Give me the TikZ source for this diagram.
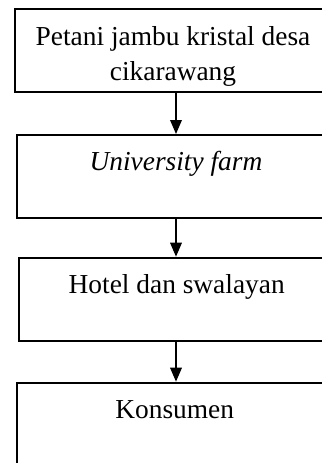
\documentclass[tikz,border=0pt]{standalone}
\usepackage{fontspec}
\setmainfont{Liberation Serif}
\usetikzlibrary{arrows.meta}
\begin{document}
\begin{tikzpicture}[x=0.5pt,y=-0.5pt,
   every node/.style={draw,line width=1pt,anchor=north,inner sep=0pt,align=center,
      font=\fontsize{13.7}{17.9}\selectfont,text height=17.8pt,text depth=23.7pt},
   arr/.style={-{Triangle[width=5.8pt,length=7pt]},line width=0.75pt}]
\clip (0,0) rectangle (322,463);
\node[minimum width=158pt,text height=36.2pt,text depth=5.4pt] (tani) at (173,7.5)
   {Petani jambu kristal desa\\cikarawang};
\node[minimum width=159pt] (farm) at (176,134) {\textit{University farm}};
\node[minimum width=157.7pt] (hotel) at (176.7,256.7) {Hotel dan swalayan};
\node[minimum width=157.4pt] (kons) at (174.7,381.7) {Konsumen};
\coordinate (ax) at (176,0);
\foreach \a/\b in {tani/farm,farm/hotel,hotel/kons}
   \draw[arr] (\a.south -| ax) -- (\b.north -| ax);
\end{tikzpicture}
\end{document}
